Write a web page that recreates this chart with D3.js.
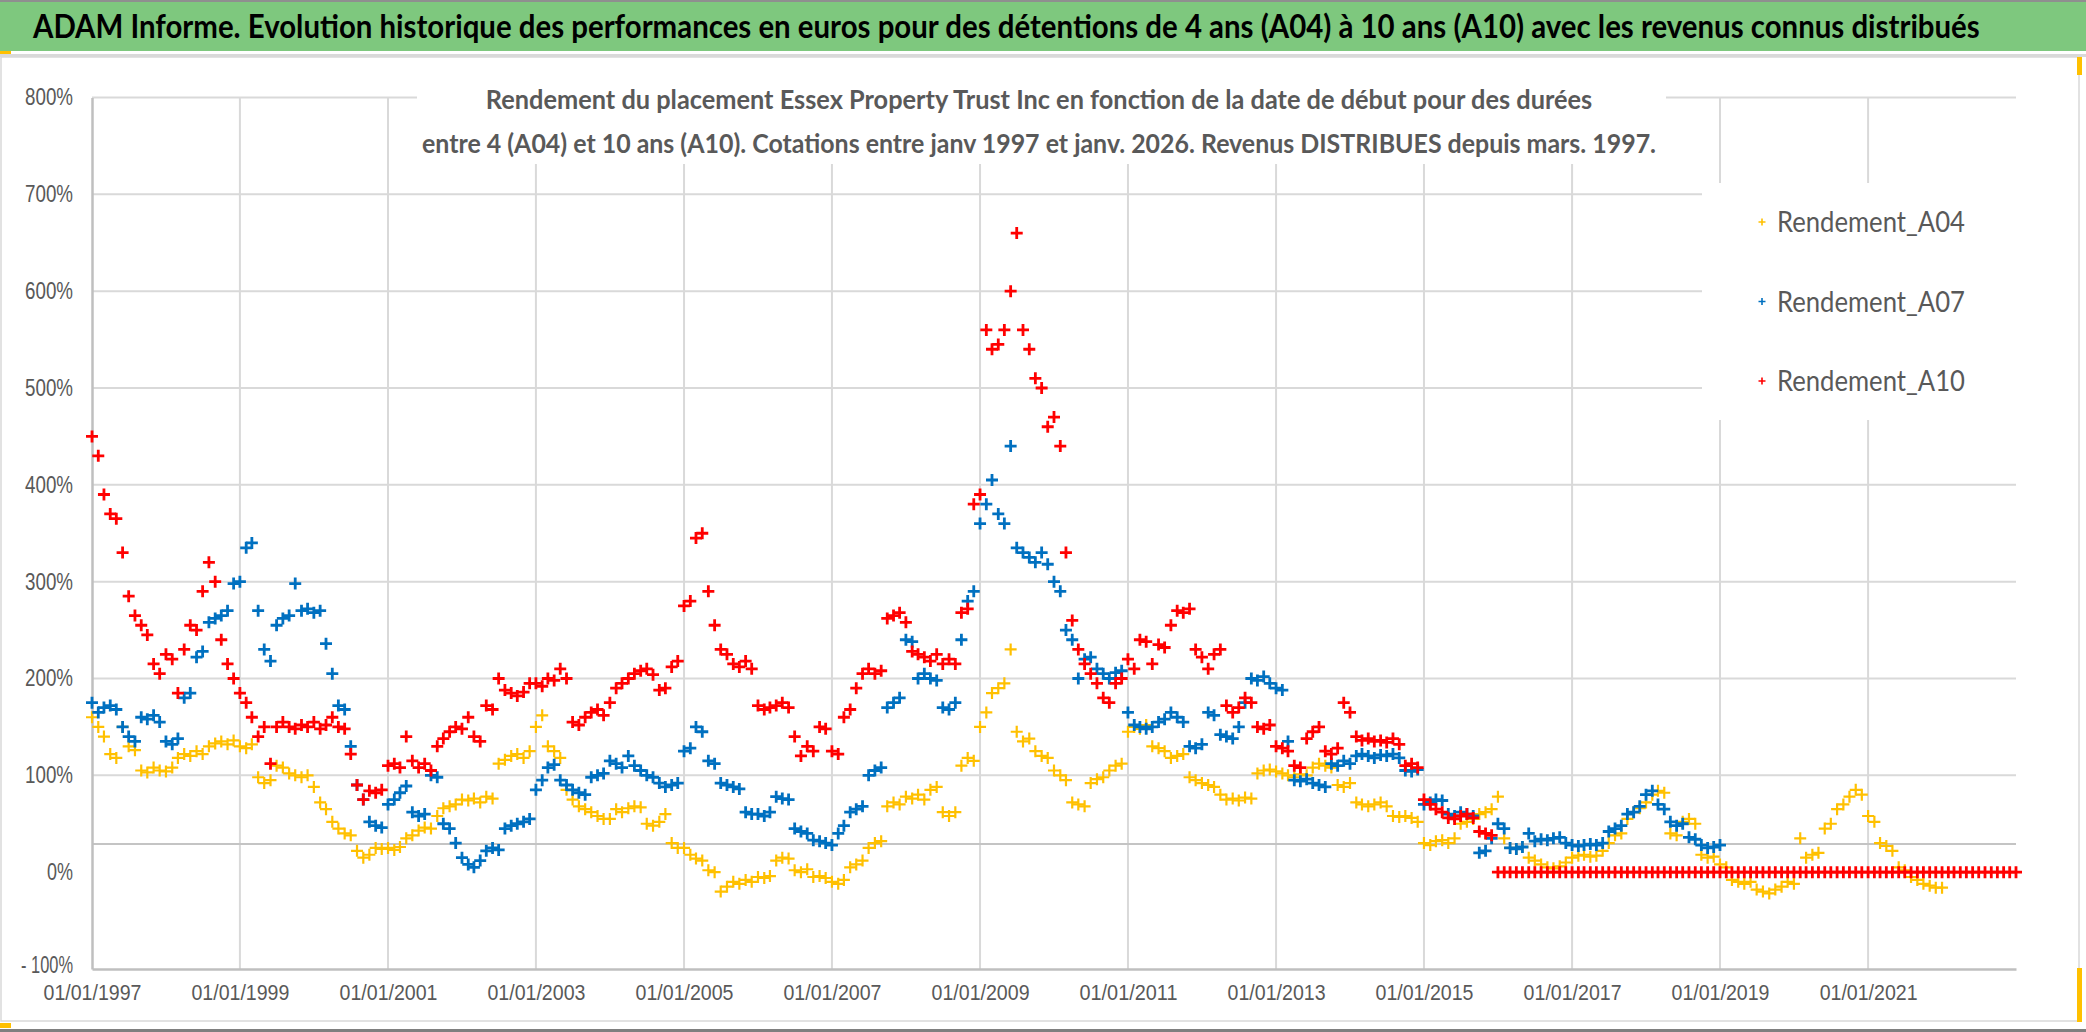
<!DOCTYPE html>
<html>
<head>
<meta charset="utf-8">
<script src="https://cdn.jsdelivr.net/npm/d3@7"></script>
<style>
  body { margin: 0; background: #fff; }
  svg { display: block; font-family: Lato, "Open Sans", sans-serif; }
</style>
</head>
<body>
<div id="chart"></div>
<script>
const width = 2086, height = 1032;

const title = "ADAM Informe. Evolution historique des performances en euros pour des détentions de 4 ans (A04) à 10 ans (A10) avec les revenus connus distribués";
const subtitle = [
  "Rendement du placement Essex Property Trust Inc en fonction de la date de début pour des durées",
  "entre 4 (A04) et 10 ans (A10). Cotations entre janv 1997 et janv. 2026. Revenus DISTRIBUES depuis mars. 1997."
];

const seriesNames = ["Rendement_A04", "Rendement_A07", "Rendement_A10"];
const seriesColors = ["#ffc000", "#0070c0", "#ff0000"];

// x ticks every 2 years, y ticks in %
const xTickYears = [1997, 1999, 2001, 2003, 2005, 2007, 2009, 2011, 2013, 2015, 2017, 2019, 2021];
const yTicks = [-100, 0, 100, 200, 300, 400, 500, 600, 700, 800];
const refLine = 29;

// monthly values (%) starting January 1997
const a04 = [
  160, 150, 140, 122, 118, 150, 130, 126, 105, 103, 108, 105,   // 1997
  104, 108, 118, 122, 120, 125, 122, 130, 133, 135, 132, 136,   // 1998
  130, 128, 132, 98, 92, 95, 110, 108, 102, 100, 98, 100,       // 1999
  88, 72, 65, 52, 45, 40, 38, 22, 15, 18, 25, 24,               // 2000
  25, 23, 26, 35, 38, 43, 46, 45, 58, 66, 68, 70,               // 2001
  75, 74, 76, 72, 78, 76, 112, 116, 120, 122, 118, 125,         // 2002
  150, 162, 130, 125, 118, 85, 75, 68, 65, 62, 58, 55,          // 2003
  55, 65, 62, 66, 68, 67, 50, 48, 52, 60, 30, 25,               // 2004
  25, 18, 14, 12, 2, 0, -20, -15, -10, -12, -8, -10,            // 2005
  -5, -6, -4, 12, 15, 14, 2, 0, 3, -5, -4, -6,                  // 2006
  -10, -12, -8, 5, 8, 12, 25, 30, 32, 68, 72, 70,               // 2007
  78, 76, 80, 75, 85, 88, 62, 58, 62, 110, 118, 115,            // 2008
  150, 165, 185, 190, 195, 230, 145, 135, 138, 125, 120, 118,   // 2009
  105, 100, 95, 72, 70, 68, 92, 96, 98, 105, 110, 112,          // 2010
  145, 150, 148, 152, 130, 128, 125, 118, 120, 122, 98, 95,     // 2011
  92, 90, 88, 80, 75, 76, 74, 77, 76, 102, 105, 106,            // 2012
  104, 102, 100, 98, 101, 100, 108, 112, 110, 108, 90, 88,      // 2013
  92, 72, 70, 68, 70, 72, 68, 58, 57, 58, 56, 52,               // 2014
  30, 28, 32, 33, 30, 35, 50, 52, 55, 60, 62, 65,               // 2015
  78, 35, 25, 24, 26, 15, 12, 8, 5, 4, 6, 10,                   // 2016
  15, 17, 18, 16, 17, 22, 30, 38, 40, 55, 62, 66,               // 2017
  72, 80, 84, 82, 40, 38, 52, 55, 50, 18, 15, 16,               // 2018
  8, 5, -8, -10, -12, -10, -18, -20, -22, -18, -15, -10,        // 2019
  -12, 35, 15, 18, 20, 45, 50, 65, 70, 78, 85, 80,              // 2020
  58, 52, 30, 27, 22, 5, 2, -5, -8, -12, -14, -16,              // 2021
  -16                                                           // 2022
];

const a07 = [
  175, 165, 170, 172, 168, 150, 140, 135, 160, 158, 162, 155,   // 1997
  135, 132, 138, 180, 185, 222, 228, 258, 262, 265, 270, 298,   // 1998
  300, 335, 340, 270, 230, 218, 255, 262, 265, 298, 270, 272,   // 1999
  268, 270, 236, 205, 172, 168, 130, 90, 75, 52, 48, 46,        // 2000
  70, 75, 82, 89, 62, 58, 60, 100, 98, 50, 45, 30,              // 2001
  15, 8, 5, 12, 22, 25, 23, 45, 48, 50, 52, 55,                 // 2002
  85, 95, 108, 111, 95, 90, 85, 82, 80, 98, 100, 102,           // 2003
  115, 112, 108, 120, 110, 105, 100, 98, 92, 88, 90, 92,        // 2004
  125, 128, 150, 145, 115, 112, 92, 90, 88, 86, 62, 60,         // 2005
  60, 58, 62, 78, 76, 75, 45, 42, 40, 33, 32, 30,               // 2006
  28, 40, 48, 62, 65, 68, 100, 105, 108, 170, 175, 180,         // 2007
  240, 238, 200, 205, 200, 198, 170, 168, 175, 240, 280, 290,   // 2008
  360, 380, 405, 370, 360, 440, 335, 330, 325, 320, 330, 318,   // 2009
  300, 290, 250, 240, 200, 220, 222, 210, 205, 200, 206, 208,   // 2010
  165, 152, 150, 148, 150, 155, 158, 165, 160, 155, 130, 128,   // 2011
  132, 165, 162, 142, 140, 138, 150, 175, 200, 198, 202, 195,   // 2012
  190, 188, 135, 95, 94, 96, 92, 90, 88, 112, 110, 115,         // 2013
  112, 120, 122, 120, 118, 121, 120, 122, 118, 105, 104, 106,   // 2014
  70, 72, 75, 74, 60, 58, 62, 60, 58, 20, 22, 35,               // 2015
  50, 45, 25, 24, 26, 40, 32, 34, 33, 35, 36, 30,               // 2016
  28, 27, 28, 29, 28, 30, 42, 45, 48, 60, 62, 68,               // 2017
  80, 84, 70, 65, 52, 48, 50, 36, 34, 28, 25, 26,               // 2018
  28                                                            // 2019
];

const a10 = [
  450, 430, 390, 370, 365, 330, 285, 265, 255, 245, 215, 205,   // 1997
  225, 220, 185, 230, 255, 250, 290, 320, 300, 240, 215, 200,   // 1998
  185, 175, 160, 140, 150, 112, 150, 155, 150, 148, 152, 150,   // 1999
  155, 148, 152, 160, 150, 148, 122, 90, 75, 84, 82, 85,        // 2000
  110, 112, 108, 140, 115, 108, 112, 105, 130, 138, 145, 150,   // 2001
  148, 160, 140, 135, 172, 168, 200, 188, 185, 182, 186, 195,   // 2002
  195, 192, 200, 198, 210, 200, 155, 152, 160, 165, 168, 162,   // 2003
  175, 190, 195, 200, 205, 208, 210, 204, 188, 190, 212, 218,   // 2004
  275, 280, 345, 350, 290, 255, 230, 225, 215, 212, 218, 210,   // 2005
  172, 168, 170, 172, 175, 170, 140, 120, 130, 125, 150, 148,   // 2006
  125, 122, 160, 168, 190, 205, 210, 205, 208, 262, 265, 268,   // 2007
  258, 228, 225, 222, 218, 225, 215, 220, 215, 268, 272, 380,   // 2008
  390, 560, 540, 545, 560, 600, 660, 560, 540, 510, 500, 460,   // 2009
  470, 440, 330, 260, 230, 215, 205, 195, 180, 175, 195, 200,   // 2010
  220, 210, 240, 238, 215, 235, 232, 255, 270, 268, 272, 230,   // 2011
  222, 210, 225, 230, 172, 165, 170, 180, 175, 150, 148, 152,   // 2012
  130, 128, 125, 110, 108, 138, 145, 150, 125, 122, 128, 175,   // 2013
  165, 140, 136, 138, 135, 136, 134, 138, 132, 110, 112, 108,   // 2014
  75, 70, 65, 62, 56, 55, 58, 60, 56, 42, 40, 38,               // 2015
  0, 0, 0, 0, 0, 0, 0, 0, 0, 0, 0, 0,                           // 2016
  0, 0, 0, 0, 0, 0, 0, 0, 0, 0, 0, 0,                           // 2017
  0, 0, 0, 0, 0, 0, 0, 0, 0, 0, 0, 0,                           // 2018
  0, 0, 0, 0, 0, 0, 0, 0, 0, 0, 0, 0,                           // 2019
  0, 0, 0, 0, 0, 0, 0, 0, 0, 0, 0, 0,                           // 2020
  0, 0, 0, 0, 0, 0, 0, 0, 0, 0, 0, 0,                           // 2021
  0, 0, 0, 0, 0, 0, 0, 0, 0, 0, 0, 0,                           // 2022
  0                                                             // 2023
];

const series = [a04, a07, a10];

const plot = { left: 92, right: 2016, top: 97.5, bottom: 969 };
const textGrey = "#595959", gridGrey = "#d9d9d9";

// squeeze a text horizontally to a given width (the original uses a narrow font)
function fitWidth(sel, w) {
    sel.each(function(d, i) {
        const target = typeof w === "function" ? w(d, i) : w;
        const len = this.getComputedTextLength();
        const tx = +this.getAttribute("x") || 0, ty = +this.getAttribute("y") || 0;
        this.setAttribute("x", 0);
        this.setAttribute("y", 0);
        this.setAttribute("transform", `translate(${tx},${ty}) scale(${target / len},1)`);
    });
}

const svg = d3.select("#chart").append("svg")
    .attr("width", width)
    .attr("height", height);

const x = d3.scaleTime()
    .domain([new Date(1997, 0, 1), new Date(2023, 0, 1)])
    .range([plot.left, plot.right]);

const y = d3.scaleLinear()
    .domain([-100, 800])
    .range([plot.bottom, plot.top]);

// banner
svg.append("rect").attr("x", 0).attr("y", 0).attr("width", width).attr("height", 51)
    .attr("fill", "#7ec87e");
svg.append("rect").attr("x", 0).attr("y", 0).attr("width", width).attr("height", 2)
    .attr("fill", "#8f8f8f");
svg.append("rect").attr("x", 0).attr("y", 54).attr("width", width).attr("height", 3)
    .attr("fill", "#d9d9d9");
svg.append("rect").attr("x", 0).attr("y", 51).attr("width", 11).attr("height", 3)
    .attr("fill", "#ffc000");
svg.append("text")
    .attr("x", 33).attr("y", 38)
    .style("font-size", "32px").style("font-weight", "bold").attr("fill", "#000")
    .text(title)
    .call(fitWidth, 1948);

// chart frame
svg.append("rect").attr("x", 1).attr("y", 57).attr("width", 2078).attr("height", 964)
    .attr("fill", "none").attr("stroke", "#d9d9d9").attr("stroke-width", 1.5);
svg.append("rect").attr("x", 2077).attr("y", 57).attr("width", 5).attr("height", 18).attr("fill", "#ffc000");
svg.append("rect").attr("x", 2077).attr("y", 968).attr("width", 5).attr("height", 54).attr("fill", "#ffc000");
svg.append("rect").attr("x", 0).attr("y", 1023).attr("width", 11).attr("height", 5).attr("fill", "#ffc000");
svg.append("rect").attr("x", 0).attr("y", 1029).attr("width", width).attr("height", 3).attr("fill", "#7f7f7f");

// grid
const grid = svg.append("g");
grid.selectAll("line.h")
    .data(yTicks.filter(d => d !== 0 && d !== -100))
    .join("line")
    .attr("x1", plot.left).attr("x2", plot.right)
    .attr("y1", d => y(d)).attr("y2", d => y(d))
    .attr("stroke", gridGrey).attr("stroke-width", 2);
grid.selectAll("line.v")
    .data(xTickYears.filter(d => d !== 1997))
    .join("line")
    .attr("x1", d => x(new Date(d, 0, 1))).attr("x2", d => x(new Date(d, 0, 1)))
    .attr("y1", plot.top).attr("y2", plot.bottom)
    .attr("stroke", gridGrey).attr("stroke-width", 2);
grid.append("line")
    .attr("x1", plot.left).attr("x2", plot.right)
    .attr("y1", y(refLine)).attr("y2", y(refLine))
    .attr("stroke", "#c4c4c4").attr("stroke-width", 2);

// axes
const xAxis = d3.axisBottom(x)
    .tickValues(xTickYears.map(yr => new Date(yr, 0, 1)))
    .tickFormat(d3.timeFormat("%d/%m/%Y"))
    .tickSize(0).tickPadding(15);
const gx = svg.append("g").attr("transform", `translate(0,${plot.bottom})`).call(xAxis);
gx.select(".domain").attr("stroke", "#bfbfbf").attr("stroke-width", 2.5);
gx.selectAll("text")
    .attr("fill", textGrey).style("font-size", "22px")
    .call(fitWidth, 98);

const yAxis = d3.axisLeft(y)
    .tickValues(yTicks)
    .tickFormat(d => d < 0 ? "- " + Math.abs(d) + "%" : d + "%")
    .tickSize(0).tickPadding(19);
const gy = svg.append("g").attr("transform", `translate(${plot.left},0)`).call(yAxis);
gy.select(".domain").attr("stroke", "#bfbfbf").attr("stroke-width", 2.5);
gy.selectAll("text")
    .attr("y", d => d < 0 ? -4 : 0)
    .attr("fill", textGrey).style("font-size", "23px")
    .call(fitWidth, d => d < 0 ? 52 : (d === 0 ? 26 : 48));

// chart title box
svg.append("rect").attr("x", 417).attr("y", 64).attr("width", 1249).attr("height", 100)
    .attr("fill", "#fff");
svg.append("g").selectAll("text")
    .data(subtitle)
    .join("text")
    .attr("x", 1039).attr("y", (d, i) => 109 + i * 44)
    .attr("text-anchor", "middle")
    .style("font-size", "27px").style("font-weight", "bold").attr("fill", textGrey)
    .text(d => d)
    .call(fitWidth, (d, i) => i === 0 ? 1107 : 1235);

// points
const plus = "M-6,0H6M0,-6V6";
series.forEach((vals, si) => {
    svg.append("g")
        .selectAll("path")
        .data(vals)
        .join("path")
        .attr("d", plus)
        .attr("transform", (v, i) => `translate(${x(new Date(1997, i, 1))},${y(v)})`)
        .attr("stroke", seriesColors[si])
        .attr("stroke-width", si === 0 ? 2.2 : 2.8)
        .attr("fill", "none");
});

// legend
const legend = svg.append("g");
legend.append("rect").attr("x", 1702).attr("y", 183).attr("width", 314).attr("height", 237)
    .attr("fill", "#fff");
const li = legend.selectAll("g.item")
    .data(seriesNames)
    .join("g")
    .attr("transform", (d, i) => `translate(1762,${222 + i * 79.5})`);
li.append("path")
    .attr("d", "M-3.5,0H3.5M0,-3.5V3.5")
    .attr("stroke", (d, i) => seriesColors[i]).attr("stroke-width", 1.6);
li.append("text")
    .attr("x", 15).attr("dy", "0.36em")
    .style("font-size", "28px").attr("fill", textGrey)
    .text(d => d)
    .call(fitWidth, 188);
</script>
</body>
</html>
